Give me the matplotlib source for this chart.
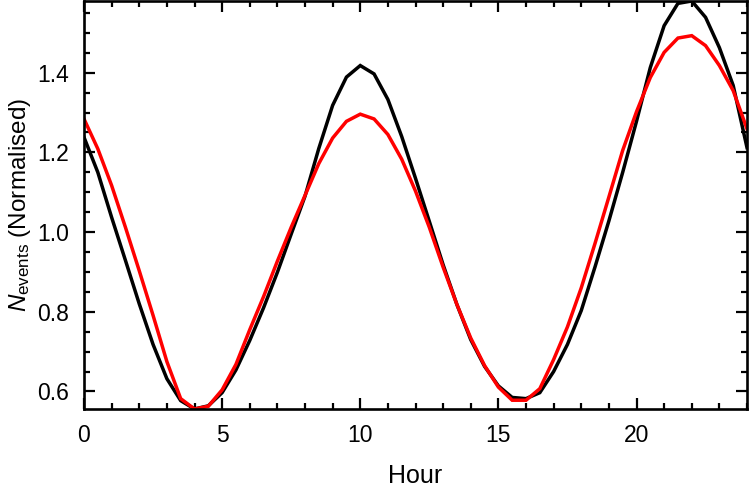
import numpy as np
import matplotlib
matplotlib.use("Agg")
import matplotlib.pyplot as plt
from matplotlib.ticker import MultipleLocator

plt.rcParams['font.family'] = ['Liberation Sans', 'DejaVu Sans']
plt.rcParams['mathtext.fontset'] = 'custom'
plt.rcParams['mathtext.rm'] = 'Liberation Sans'
plt.rcParams['mathtext.it'] = 'Liberation Sans:italic'

hours = [0, 0.5, 1, 1.5, 2, 2.5, 3, 3.5, 4, 4.5, 5, 5.5, 6, 6.5, 7, 7.5,
         8, 8.5, 9, 9.5, 10, 10.5, 11, 11.5, 12, 12.5, 13, 13.5, 14, 14.5,
         15, 15.5, 16, 16.5, 17, 17.5, 18, 18.5, 19, 19.5, 20, 20.5, 21,
         21.5, 22, 22.5, 23, 23.5, 24]

black_series = [1.238, 1.150, 1.037, 0.929, 0.820, 0.718, 0.632, 0.577, 0.556,
                0.564, 0.597, 0.654, 0.728, 0.810, 0.899, 0.995, 1.090, 1.210,
                1.318, 1.389, 1.418, 1.397, 1.333, 1.240, 1.135, 1.027, 0.918,
                0.818, 0.730, 0.663, 0.614, 0.585, 0.582, 0.597, 0.650, 0.718,
                0.803, 0.913, 1.028, 1.150, 1.278, 1.413, 1.518, 1.574, 1.580,
                1.539, 1.463, 1.368, 1.212]

red_series = [1.284, 1.209, 1.117, 1.012, 0.903, 0.791, 0.675, 0.582, 0.556,
              0.563, 0.604, 0.668, 0.755, 0.838, 0.927, 1.012, 1.092, 1.172,
              1.236, 1.278, 1.296, 1.284, 1.245, 1.183, 1.103, 1.012, 0.912,
              0.818, 0.734, 0.665, 0.611, 0.578, 0.578, 0.607, 0.680, 0.762,
              0.860, 0.972, 1.088, 1.205, 1.302, 1.388, 1.451, 1.487, 1.493,
              1.468, 1.418, 1.355, 1.259]

x_ticks = [0, 5, 10, 15, 20]
y_ticks = [0.6, 0.8, 1.0, 1.2, 1.4]

fig = plt.figure(figsize=(7.5, 4.94), dpi=100)
ax = fig.add_axes([84/750, 1 - 409/494, (747-84)/750, 408/494])

ax.plot(hours, black_series, color='black', lw=2.5, solid_joinstyle='miter')
ax.plot(hours, red_series, color='#ff0000', lw=2.5, solid_joinstyle='miter')

ax.set_xlim(0, 24)
ax.set_ylim(min(black_series + red_series), max(black_series + red_series))
ax.set_xticks(x_ticks)
ax.set_yticks(y_ticks)
ax.set_yticklabels([f"{v:.1f}" for v in y_ticks])
ax.xaxis.set_minor_locator(MultipleLocator(1))
ax.yaxis.set_minor_locator(MultipleLocator(0.05))

ax.tick_params(which='both', direction='in', top=True, right=True, width=1.6,
               labelsize=16.5)
ax.tick_params(which='major', length=8)
ax.tick_params(which='minor', length=4.5)
ax.tick_params(axis='x', which='major', pad=11)
ax.tick_params(axis='y', which='major', pad=11)
for s in ax.spines.values():
    s.set_linewidth(1.9)

ax.set_xlabel('Hour', fontsize=18, labelpad=12)
ax.set_ylabel(r'$N_{\mathrm{events}}$ (Normalised)', fontsize=17.5, labelpad=3)

fig.savefig('out.png', dpi=100)
